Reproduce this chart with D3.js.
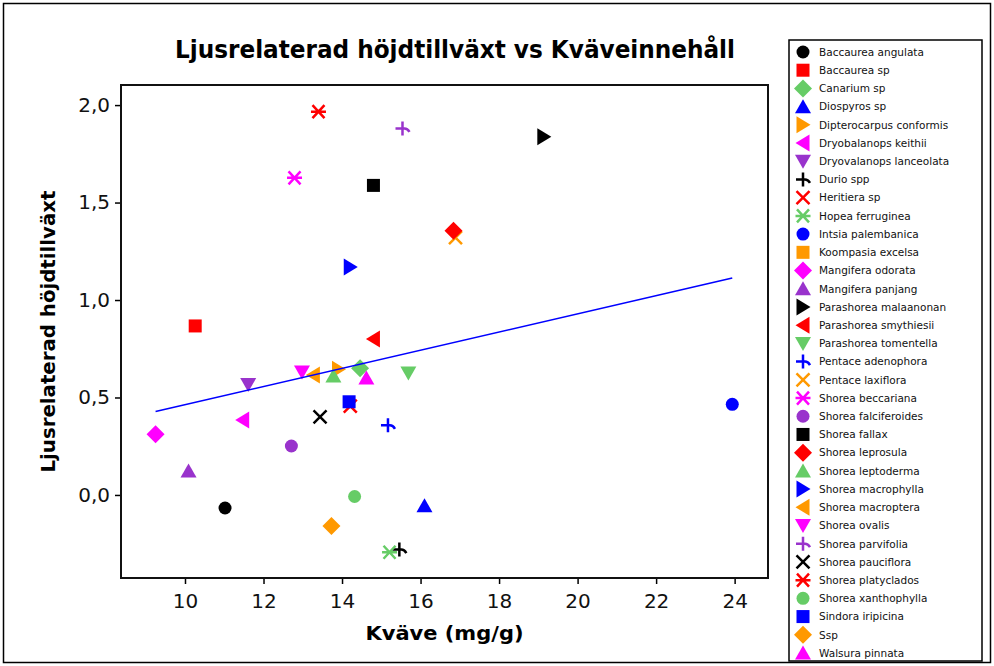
<!DOCTYPE html>
<html><head><meta charset="utf-8">
<script src="https://cdn.jsdelivr.net/npm/d3@7"></script>
<style>body{margin:0;background:#fff}svg{display:block}</style>
</head><body>
<svg id="c" width="994" height="666"></svg>
<script>
const species = ["Baccaurea angulata","Baccaurea sp","Canarium sp","Diospyros sp","Dipterocarpus conformis","Dryobalanops keithii","Dryovalanops lanceolata","Durio spp","Heritiera sp","Hopea ferruginea","Intsia palembanica","Koompasia excelsa","Mangifera odorata","Mangifera panjang","Parashorea malaanonan","Parashorea smythiesii","Parashorea tomentella","Pentace adenophora","Pentace laxiflora","Shorea beccariana","Shorea falciferoides","Shorea fallax","Shorea leprosula","Shorea leptoderma","Shorea macrophylla","Shorea macroptera","Shorea ovalis","Shorea parvifolia","Shorea pauciflora","Shorea platyclados","Shorea xanthophylla","Sindora iripicina","Ssp","Walsura pinnata"];
const kvave = [11.02,10.26,14.46,16.1,13.91,11.47,11.61,15.46,14.21,15.21,23.94,null,9.25,10.09,19.14,14.8,15.69,15.17,16.89,12.79,12.71,14.8,16.84,13.78,14.21,13.27,12.98,15.54,13.44,13.4,14.32,14.18,13.73,14.62];
const hojd = [-0.067,0.867,0.65,-0.055,0.645,0.385,0.566,-0.28,0.456,-0.294,0.465,null,0.311,0.123,1.838,0.80,0.626,0.357,1.32,1.627,0.251,1.588,1.355,0.61,1.169,0.615,0.631,1.88,0.40,1.966,-0.008,0.478,-0.159,0.60];
const xTicks = [10,12,14,16,18,20,22,24];
const yTicks = [0,0.5,1,1.5,2];
const fitIntercept = -0.003, fitSlope = 0.0466;
const palette = ["#000000","#ff0000","#66cc66","#0000ff","#ff9900","#ff00ff","#9933cc"];
const shapes = ["circle","square","diamond","triUp","triRight","triLeft","triDown","hookPlus","cross","asterisk"];

const svg = d3.select("#c");
const W=994,H=666;
svg.append("rect").attr("x",3.5).attr("y",3.5).attr("width",987).attr("height",659).attr("fill","none").attr("stroke","#000").attr("stroke-width",1.5);

const L=121,R=768,T=85,B=578;
const x = d3.scaleLinear().domain([8.37,24.85]).range([L,R]);
const y = d3.scaleLinear().domain([-0.426,2.103]).range([B,T]);

const ff = "'DejaVu Sans', Verdana, sans-serif";
svg.append("text").attr("x",455).attr("y",58).attr("text-anchor","middle").attr("font-family",ff).attr("font-weight","bold").attr("font-size",24).attr("textLength",560).attr("lengthAdjust","spacingAndGlyphs").text("Ljusrelaterad höjdtillväxt vs Kväveinnehåll");

const fmt = d => d3.format(".1f")(d).replace(".",",");
const gx = svg.append("g").attr("transform",`translate(0,${B})`).call(d3.axisBottom(x).tickValues(xTicks).tickFormat(d3.format("d")).tickSize(6).tickSizeOuter(0));
const gy = svg.append("g").attr("transform",`translate(${L},0)`).call(d3.axisLeft(y).tickValues(yTicks).tickFormat(fmt).tickSize(6).tickSizeOuter(0));
[gx,gy].forEach(g=>{g.select(".domain").remove();g.selectAll("line").attr("stroke","#000").attr("stroke-width",1.5);g.selectAll("text").attr("font-family",ff).attr("font-size",20).attr("fill","#111");});
gx.selectAll("text").attr("dy","1.05em");
gy.selectAll("text").attr("dx","-0.1em");
svg.append("rect").attr("x",L).attr("y",T).attr("width",R-L).attr("height",B-T).attr("fill","none").attr("stroke","#111").attr("stroke-width",2);

svg.append("text").attr("x",(L+R)/2).attr("y",640).attr("text-anchor","middle").attr("font-family",ff).attr("font-weight","bold").attr("font-size",20).attr("textLength",158).attr("lengthAdjust","spacingAndGlyphs").text("Kväve (mg/g)");
svg.append("text").attr("transform",`translate(55,${(T+B)/2}) rotate(-90)`).attr("text-anchor","middle").attr("font-family",ff).attr("font-weight","bold").attr("font-size",20).attr("textLength",282).attr("lengthAdjust","spacingAndGlyphs").text("Ljusrelaterad höjdtillväxt");

function marker(g, shape, color){
  const filled = {
    circle: () => g.append("circle").attr("r",6.5),
    square: () => g.append("rect").attr("x",-6.5).attr("y",-6.5).attr("width",13).attr("height",13),
    diamond: () => g.append("path").attr("d","M0,-9L9,0L0,9L-9,0Z"),
    triUp: () => g.append("path").attr("d","M0,-7.5L8,6.5L-8,6.5Z"),
    triDown: () => g.append("path").attr("d","M-8,-6.5L8,-6.5L0,7.5Z"),
    triRight: () => g.append("path").attr("d","M-6.5,-8.5L7.5,0L-6.5,8.5Z"),
    triLeft: () => g.append("path").attr("d","M6.5,-8.5L-7.5,0L6.5,8.5Z")
  };
  const stroked = {
    hookPlus: "M-7,0H2Q5,0 7,3.5M0,-7V7",
    cross: "M-6.5,-6.5L6.5,6.5M-6.5,6.5L6.5,-6.5",
    asterisk: "M-6,-6.5L6,6.5M-6,6.5L6,-6.5M-7.5,0H7.5"
  };
  if (filled[shape]) filled[shape]().attr("fill",color);
  else g.append("path").attr("d",stroked[shape]).attr("fill","none").attr("stroke",color).attr("stroke-width",2.5);
}

const pts = species.map((s,i)=>({s,i,x:kvave[i],y:hojd[i]})).filter(d=>d.x!=null);
pts.forEach(d=>{
  const g = svg.append("g").attr("transform",`translate(${x(d.x)},${y(d.y)})`);
  marker(g, shapes[d.i%10], palette[d.i%7]);
});

const xs = pts.map(d=>d.x);
const x0=d3.min(xs), x1=d3.max(xs);
svg.append("line").attr("x1",x(x0)).attr("y1",y(fitIntercept+fitSlope*x0)).attr("x2",x(x1)).attr("y2",y(fitIntercept+fitSlope*x1)).attr("stroke","#0000ff").attr("stroke-width",1.6);

// legend
svg.append("rect").attr("x",789).attr("y",40).attr("width",193).attr("height",621).attr("fill","#fff").attr("stroke","#000").attr("stroke-width",1.5);
const ly = d3.scalePoint().domain(species).range([52,653]);
species.forEach((s,i)=>{
  const g = svg.append("g").attr("transform",`translate(803,${ly(s)})`);
  marker(g, shapes[i%10], palette[i%7]);
  svg.append("text").attr("x",819).attr("y",ly(s)).attr("dy","0.36em").attr("font-family",ff).attr("font-size",10.5).attr("fill","#111").text(s);
});
</script>
</body></html>
